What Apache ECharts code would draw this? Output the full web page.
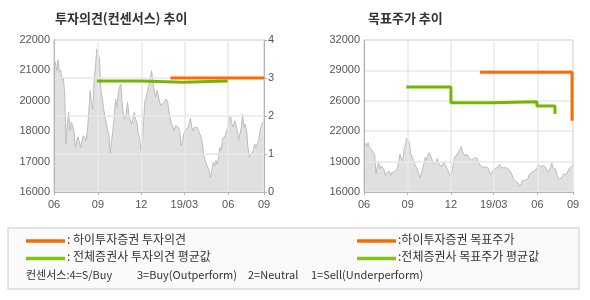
<!DOCTYPE html>
<html><head><meta charset="utf-8">
<script src="https://cdn.jsdelivr.net/npm/echarts@6/dist/echarts.min.js"></script>
<style>html,body{margin:0;padding:0;background:#fff;}#c{width:590px;height:300px;}</style>
</head><body><div id="c"></div>
<script>
// x axis: days since 2018-06-01
var xTickDays = [0, 92, 183, 273, 365, 440];
var xTickLabels = ['06', '09', '12', '19/03', '06', '09'];
var xMaxDay = 440;

// daily close (sampled evenly from day 0 to day 440)
var prices = [20860, 21120, 20790, 21210, 20720, 20820, 20400, 20530, 19870, 17900, 18680, 19150, 18420, 18750, 18620, 18360, 17760, 18030, 18180, 18160, 17760, 18030, 18220, 18160, 18030, 18420, 19150, 20000, 19540, 19280, 20400, 20950, 21650, 21710, 21250, 20070, 19740, 19340, 18950, 18750, 18420, 18290, 17500, 17430, 18420, 18950, 19670, 19340, 19870, 20130, 20260, 19470, 19010, 18880, 19080, 19540, 19010, 18950, 18680, 18880, 19150, 18880, 18750, 18290, 18160, 17630, 17760, 18820, 19610, 19740, 20000, 20070, 20460, 20790, 20260, 20000, 19740, 20000, 19800, 19540, 19410, 19340, 19540, 19610, 19670, 19540, 19150, 18880, 18680, 18620, 18420, 18620, 18680, 18550, 18420, 17830, 17960, 18290, 18420, 18490, 18550, 18680, 18920, 18550, 18420, 18550, 18490, 18550, 18420, 18360, 18160, 17900, 17430, 17370, 17110, 16970, 16910, 16580, 16840, 17170, 17040, 17240, 17110, 17370, 17760, 17630, 18090, 18160, 18220, 18420, 18550, 18880, 19010, 18680, 18550, 18820, 18680, 18420, 18030, 18290, 18550, 19080, 18550, 18680, 18420, 17760, 17370, 17500, 17430, 17630, 17900, 17760, 17830, 18030, 18420, 18620, 18750, 18680];

// opinion (consensus scale 0-4)
var hiOpinionDays = [244, 440];
var hiOpinion = [3, 3];
var avgOpinionDays = [90, 183, 270, 364];
var avgOpinion = [2.92, 2.89, 2.92, 2.92];

// target price
var hiTargetDays = [244, 438, 438];
var hiTarget = [28600, 28600, 23500];
var avgTargetDays = [89, 183, 271, 364, 402];
var avgTarget = [27050, 25400, 25500, 25050, 24200];

var leftPriceAxis = {min: 16000, max: 22000, interval: 1200};
var opinionAxis = {min: 0, max: 4, interval: 1};
var rightPriceAxis = {min: 16000, max: 32000, interval: 3200};

function pairs(xs, ys) { return xs.map(function (x, i) { return [x, ys[i]]; }); }
var pricePairs = prices.map(function (v, i) { return [i * xMaxDay / (prices.length - 1), v]; });

var ORANGE = '#ff6a00', GREEN = '#74b600';
var AXC = '#b4b4b4', GRIDC = '#e8e8e8', LBL = '#555';
var FONT = '"Liberation Sans", Arial, sans-serif';
var KFONT = '"Noto Sans CJK KR", sans-serif';

function xAxis(gi) {
  return {
    type: 'value', gridIndex: gi, min: 0, max: xMaxDay, z: 3,
    axisLine: {show: true, lineStyle: {color: AXC}},
    axisTick: {show: true, length: 3, customValues: xTickDays, lineStyle: {color: AXC}},
    axisLabel: {customValues: xTickDays, margin: 7, color: LBL, fontSize: 11, fontFamily: FONT,
      formatter: function (v) { var i = xTickDays.indexOf(v); return i >= 0 ? xTickLabels[i] : ''; }},
    splitLine: {show: true, lineStyle: {color: GRIDC, width: 1.5}}
  };
}
function roundK(v) { return String(Math.round(v / 1000) * 1000); }

var option = {
  animation: false,
  backgroundColor: '#fff',
  grid: [
    {left: 54, top: 40, width: 210, height: 152, show: true, borderColor: AXC, borderWidth: 1, backgroundColor: 'transparent'},
    {left: 364, top: 40, width: 209, height: 152, show: true, borderColor: AXC, borderWidth: 1, backgroundColor: 'transparent'}
  ],
  xAxis: [xAxis(0), xAxis(1)],
  yAxis: [
    {type: 'value', gridIndex: 0, position: 'left', min: leftPriceAxis.min, max: leftPriceAxis.max, interval: leftPriceAxis.interval, z: 3,
      axisLine: {show: true, lineStyle: {color: AXC}}, axisTick: {show: false},
      axisLabel: {margin: 4, color: LBL, fontSize: 11, fontFamily: FONT, formatter: roundK},
      splitLine: {show: false}},
    {type: 'value', gridIndex: 0, position: 'right', min: opinionAxis.min, max: opinionAxis.max, interval: opinionAxis.interval, z: 3,
      axisLine: {show: true, lineStyle: {color: AXC}}, axisTick: {show: true, length: 3, lineStyle: {color: AXC}},
      axisLabel: {margin: 4, color: LBL, fontSize: 11, fontFamily: FONT},
      splitLine: {show: true, lineStyle: {color: GRIDC, width: 1.5}}},
    {type: 'value', gridIndex: 1, position: 'left', min: rightPriceAxis.min, max: rightPriceAxis.max, interval: rightPriceAxis.interval, z: 3,
      axisLine: {show: true, lineStyle: {color: AXC}}, axisTick: {show: false},
      axisLabel: {margin: 4, color: LBL, fontSize: 11, fontFamily: FONT, formatter: roundK},
      splitLine: {show: true, lineStyle: {color: GRIDC, width: 1.5}}}
  ],
  series: [
    {type: 'line', xAxisIndex: 0, yAxisIndex: 0, data: pricePairs, symbol: 'none', z: 1,
      lineStyle: {color: '#bdbdbd', width: 1}, areaStyle: {color: '#e0e0e0', origin: 'start', opacity: 1}},
    {type: 'line', xAxisIndex: 1, yAxisIndex: 2, data: pricePairs, symbol: 'none', z: 1,
      lineStyle: {color: '#bdbdbd', width: 1}, areaStyle: {color: '#e0e0e0', origin: 'start', opacity: 1}},
    {type: 'line', xAxisIndex: 0, yAxisIndex: 1, data: pairs(avgOpinionDays, avgOpinion), step: 'end', symbol: 'none', z: 5,
      lineStyle: {color: GREEN, width: 3}},
    {type: 'line', xAxisIndex: 0, yAxisIndex: 1, data: pairs(hiOpinionDays, hiOpinion), symbol: 'none', z: 6,
      lineStyle: {color: ORANGE, width: 3}},
    {type: 'line', xAxisIndex: 1, yAxisIndex: 2, data: pairs(avgTargetDays, avgTarget), step: 'end', symbol: 'none', z: 5,
      lineStyle: {color: GREEN, width: 3}},
    {type: 'line', xAxisIndex: 1, yAxisIndex: 2, data: pairs(hiTargetDays, hiTarget), step: 'end', symbol: 'none', z: 6,
      lineStyle: {color: ORANGE, width: 3}}
  ],
  graphic: [
    {type: 'text', left: 55, top: 12, style: {text: '투자의견(컨센서스) 추이', fill: '#333', font: 'bold 13px ' + KFONT}},
    {type: 'text', left: 368, top: 12, style: {text: '목표주가 추이', fill: '#333', font: 'bold 13px ' + KFONT}},
    {type: 'rect', shape: {x: 8, y: 228, width: 571, height: 61}, style: {fill: '#fafafa', stroke: '#dcdcdc', lineWidth: 1.5}},
    {type: 'line', shape: {x1: 26, y1: 241, x2: 65, y2: 241}, style: {stroke: '#ef7000', lineWidth: 3.5}},
    {type: 'line', shape: {x1: 26, y1: 258.5, x2: 65, y2: 258.5}, style: {stroke: '#86c316', lineWidth: 3.5}},
    {type: 'line', shape: {x1: 357, y1: 241, x2: 396, y2: 241}, style: {stroke: '#ef7000', lineWidth: 3.5}},
    {type: 'line', shape: {x1: 357, y1: 258.5, x2: 396, y2: 258.5}, style: {stroke: '#86c316', lineWidth: 3.5}},
    {type: 'text', left: 67, top: 233, style: {text: ': 하이투자증권 투자의견', fill: '#333', font: '12px ' + KFONT}},
    {type: 'text', left: 67, top: 250.5, style: {text: ': 전체증권사 투자의견 평균값', fill: '#333', font: '12px ' + KFONT}},
    {type: 'text', left: 398, top: 233, style: {text: ':하이투자증권 목표주가', fill: '#333', font: '12px ' + KFONT}},
    {type: 'text', left: 398, top: 250.5, style: {text: ':전체증권사 목표주가 평균값', fill: '#333', font: '12px ' + KFONT}},
    {type: 'text', left: 26, top: 269, style: {text: '컨센서스:4=S/Buy', fill: '#333', font: '11px ' + KFONT}},
    {type: 'text', left: 137, top: 269, style: {text: '3=Buy(Outperform)', fill: '#333', font: '11px ' + KFONT}},
    {type: 'text', left: 248, top: 269, style: {text: '2=Neutral', fill: '#333', font: '11px ' + KFONT}},
    {type: 'text', left: 311, top: 269, style: {text: '1=Sell(Underperform)', fill: '#333', font: '11px ' + KFONT}}
  ]
};
var chart = echarts.init(document.getElementById('c'), null, {renderer: 'canvas'});
chart.setOption(option);
</script></body></html>
